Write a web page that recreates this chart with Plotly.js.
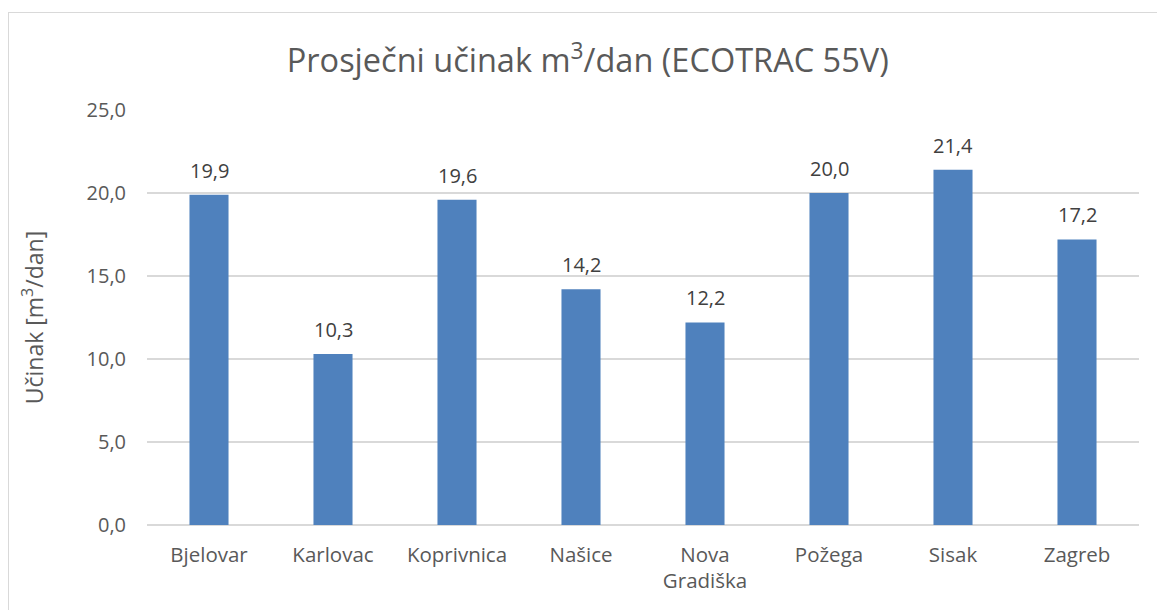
<!DOCTYPE html>
<html>
<head>
<meta charset="utf-8">
<script src="https://cdn.plot.ly/plotly-3.0.1.min.js"></script>
<style>
html,body{margin:0;padding:0;background:#fff;overflow:hidden;}
#frame{position:absolute;left:8px;top:12px;width:1300px;height:800px;border:1px solid #d9d9d9;box-sizing:border-box;}
#chart{position:absolute;left:0;top:0;width:1157px;height:610px;}
</style>
</head>
<body>
<div id="frame"></div>
<div id="chart"></div>
<script>
const categories = ["Bjelovar", "Karlovac", "Koprivnica", "Našice", "Nova<br>Gradiška", "Požega", "Sisak", "Zagreb"];
const values = [19.9, 10.3, 19.6, 14.2, 12.2, 20.0, 21.4, 17.2];
const yTicks = [0, 5, 10, 15, 20, 25];

const textColor = "#595959";
const fontFam = "Open Sans, sans-serif";
const trace = {
  type: "bar",
  x: categories,
  y: values,
  marker: {color: "#4f81bd"},
  width: 0.315,
  hoverinfo: "skip"
};
const labels = categories.map((c, i) => ({
  x: c, y: values[i], xref: "x", yref: "y",
  text: values[i].toFixed(1).replace(".", ","),
  showarrow: false, yanchor: "bottom", yshift: 9,
  font: {family: fontFam, size: 20, color: "#404040"}
}));
const layout = {
  width: 1157, height: 610,
  paper_bgcolor: "rgba(0,0,0,0)",
  plot_bgcolor: "rgba(0,0,0,0)",
  separators: ", ",
  margin: {l: 147, r: 18, t: 110, b: 85},
  font: {family: fontFam, color: textColor, size: 20},
  title: {text: "Prosječni učinak m<sup>3</sup>/dan (ECOTRAC 55V)", x: 0.508, xanchor: "center", y: 0.9, yanchor: "middle", font: {size: 32.5, color: textColor}},
  xaxis: {tickfont: {size: 20.5, color: textColor}, showline: false, ticks: "", ticklabelstandoff: 15, automargin: false},
  yaxis: {range: [0, 25], tickvals: yTicks, tickformat: ".1f", gridcolor: "#d9d9d9", gridwidth: 1.3, zeroline: true, zerolinecolor: "#d9d9d9", zerolinewidth: 1.3,
    ticks: "", ticklen: 0, ticklabelstandoff: 20, tickfont: {size: 20, color: textColor}, automargin: false,
    title: {text: "Učinak [m<sup>3</sup>/dan]", standoff: 36, font: {size: 23, color: textColor}}},
  annotations: labels,
  showlegend: false
};
Plotly.newPlot("chart", [trace], layout, {displayModeBar: false, staticPlot: true});
</script>
</body>
</html>
